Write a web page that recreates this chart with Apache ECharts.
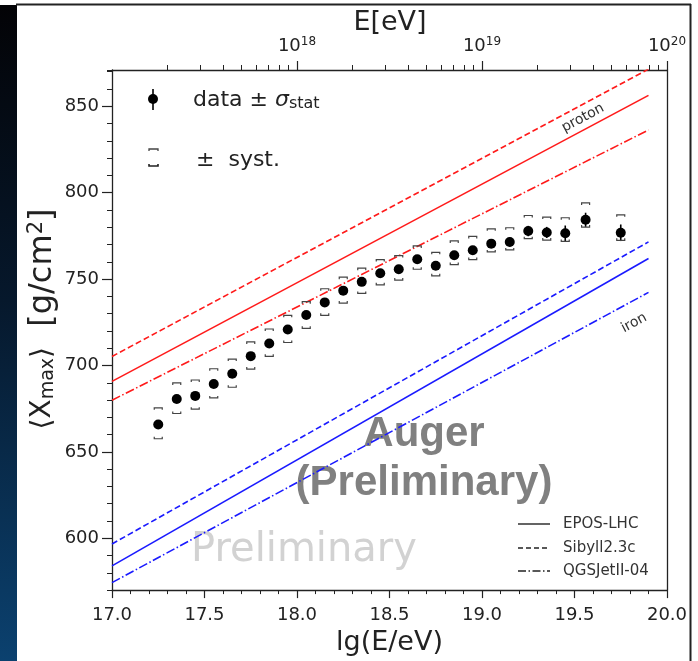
<!DOCTYPE html>
<html>
<head>
<meta charset="utf-8">
<script src="https://cdn.jsdelivr.net/npm/echarts@6/dist/echarts.min.js"></script>
<style>
html, body { margin: 0; padding: 0; background: #fff; }
#chart { width: 698px; height: 661px; }
</style>
</head>
<body>
<div id="chart"></div>
<script>
// Xmax data
var lgE = [17.25, 17.35, 17.45, 17.55, 17.65, 17.75, 17.85, 17.95, 18.05, 18.15, 18.25, 18.35, 18.45,
	18.55, 18.65, 18.75, 18.85, 18.95, 19.05, 19.15, 19.25, 19.35, 19.45, 19.56, 19.75];
var xmax = [665.8, 680.6, 682.4, 689.3, 695.2, 705.4, 712.7, 720.8, 729.2, 736.5, 743.3, 748.4, 753.4,
	755.7, 761.5, 757.7, 763.8, 766.7, 770.5, 771.5, 777.8, 777.0, 776.5, 784.3, 776.8];
var statErr = [1.5, 1.2, 1.2, 1.2, 1.2, 1.2, 1.2, 1.2, 1.2, 1.3, 1.3, 1.4, 1.5,
	1.6, 1.7, 1.8, 2.0, 2.2, 2.4, 2.6, 3.0, 3.2, 4.5, 4.1, 4.8];
var systPlus = [9.7, 9.3, 9.2, 8.8, 8.5, 8.2, 8.4, 8.2, 7.7, 7.9, 7.8, 7.9, 7.9,
	7.9, 7.7, 7.8, 8.3, 8.0, 8.6, 8.2, 9.0, 8.9, 9.0, 9.8, 10.4];
var systMinus = [8.2, 8.4, 7.7, 8.1, 7.8, 7.5, 7.4, 7.5, 7.7, 7.5, 7.2, 6.7, 6.7,
	6.3, 5.8, 5.8, 5.4, 5.4, 4.8, 4.6, 4.4, 4.4, 4.7, 4.2, 4.4];

// model predictions (straight lines in lg E)
var modelX = [17.0, 19.9];
var protonEpos = [690.8, 856.3];
var protonSibyll = [705.2, 871.5];
var protonQgs = [679.9, 836.3];
var ironEpos = [584.0, 761.9];
var ironSibyll = [596.7, 771.5];
var ironQgs = [574.3, 742.3];

// ticks
var yMajor = [600, 650, 700, 750, 800, 850];
var topMajor = [18, 19, 20];
var topMinor = [];
[17, 18, 19].forEach(function (d) {
	for (var k = 2; k <= 9; k++) topMinor.push(d + Math.log10(k));
});

var FONT = 'DejaVu Sans';
var DASH = [6, 3];
var DASHDOT = [9, 2.5, 1.5, 2.5];

function pair(xs, ys) {
	return xs.map(function (x, i) { return [x, ys[i]]; });
}
function modelLine(name, ys, color, type) {
	return {
		name: name,
		type: 'line',
		data: pair(modelX, ys),
		showSymbol: false,
		silent: true,
		clip: true,
		lineStyle: { color: color, width: 1.6, type: type },
		z: 3
	};
}

var errData = lgE.map(function (x, i) {
	return [x, xmax[i], statErr[i], systPlus[i], systMinus[i]];
});

var chart = echarts.init(document.getElementById('chart'));

var option = {
	animation: false,
	backgroundColor: '#fff',
	grid: { left: 112, right: 31, top: 70, bottom: 68 },
	xAxis: [
		{
			type: 'value', position: 'bottom', min: 17, max: 20, interval: 0.5,
			axisLine: { show: true, lineStyle: { color: '#222', width: 1.3 } },
			axisTick: { length: 8, lineStyle: { color: '#222', width: 1.2 } },
			minorTick: { show: true, splitNumber: 5, length: 4, lineStyle: { color: '#222', width: 1 } },
			axisLabel: {
				fontFamily: FONT, fontSize: 18, color: '#222', margin: 16,
				formatter: function (v) { return v.toFixed(1); }
			},
			splitLine: { show: false },
			name: 'lg(E/eV)', nameLocation: 'middle', nameGap: 36,
			nameTextStyle: { fontFamily: FONT, fontSize: 27, color: '#222' }
		},
		{
			type: 'value', position: 'top', min: 17, max: 20,
			axisLine: { show: true, lineStyle: { color: '#222', width: 1.3 } },
			axisTick: { show: true, customValues: topMinor, length: 5, lineStyle: { color: '#222', width: 1 } },
			axisLabel: { show: false },
			splitLine: { show: false }
		},
		{
			type: 'value', position: 'top', min: 17, max: 20,
			axisLine: { show: false },
			axisTick: { show: true, customValues: topMajor, length: 9, lineStyle: { color: '#222', width: 1.2 } },
			axisLabel: {
				show: true, customValues: topMajor, margin: 13,
				fontFamily: FONT, fontSize: 18, color: '#222',
				formatter: function (v) { return '10{s|' + v + '}'; },
				rich: { s: { fontFamily: FONT, fontSize: 12, color: '#222', padding: [0, 0, 9, 0] } }
			},
			splitLine: { show: false }
		}
	],
	yAxis: [
		{
			type: 'value', position: 'left', min: 570, max: 871, interval: 10,
			axisLine: { show: true, lineStyle: { color: '#222', width: 1.3 } },
			axisTick: { length: 5, lineStyle: { color: '#222', width: 1 } },
			axisLabel: {
				fontFamily: FONT, fontSize: 18, color: '#222', margin: 13,
				formatter: function (v) { return v % 50 === 0 ? String(v) : ''; }
			},
			splitLine: { show: false }
		},
		{
			type: 'value', position: 'left', min: 570, max: 871,
			axisLine: { show: false },
			axisTick: { show: true, customValues: yMajor, length: 10, lineStyle: { color: '#222', width: 1.2 } },
			axisLabel: { show: false },
			splitLine: { show: false }
		},
		{
			type: 'value', position: 'right', min: 570, max: 871,
			axisLine: { show: true, lineStyle: { color: '#222', width: 1.3 } },
			axisTick: { show: false },
			axisLabel: { show: false },
			splitLine: { show: false }
		}
	],
	series: [
		modelLine('proton EPOS-LHC', protonEpos, '#ff1a1a', 'solid'),
		modelLine('proton Sibyll2.3c', protonSibyll, '#ff1a1a', DASH),
		modelLine('proton QGSJetII-04', protonQgs, '#ff1a1a', DASHDOT),
		modelLine('iron EPOS-LHC', ironEpos, '#1a1aff', 'solid'),
		modelLine('iron Sibyll2.3c', ironSibyll, '#1a1aff', DASH),
		modelLine('iron QGSJetII-04', ironQgs, '#1a1aff', DASHDOT),
		{
			name: 'errors',
			type: 'custom',
			silent: true,
			z: 5,
			data: errData,
			renderItem: function (params, api) {
				var x = api.value(0), y = api.value(1);
				var c = api.coord([x, y]);
				var st = api.coord([x, y + api.value(2)]);
				var sb = api.coord([x, y - api.value(2)]);
				var top = api.coord([x, y + api.value(3)]);
				var bot = api.coord([x, y - api.value(4)]);
				var hw = 4, tk = 2;
				var bs = { stroke: '#444', fill: null, lineWidth: 1.2 };
				return {
					type: 'group',
					children: [
						{ type: 'line', shape: { x1: c[0], y1: st[1], x2: c[0], y2: sb[1] }, style: { stroke: '#000', lineWidth: 1.6 } },
						{ type: 'polyline', shape: { points: [[c[0] - hw, top[1] + tk], [c[0] - hw, top[1]], [c[0] + hw, top[1]], [c[0] + hw, top[1] + tk]] }, style: bs },
						{ type: 'polyline', shape: { points: [[c[0] - hw, bot[1] - tk], [c[0] - hw, bot[1]], [c[0] + hw, bot[1]], [c[0] + hw, bot[1] - tk]] }, style: bs }
					]
				};
			}
		},
		{
			name: 'data',
			type: 'scatter',
			silent: true,
			z: 6,
			symbol: 'circle',
			symbolSize: 10,
			itemStyle: { color: '#000', opacity: 1 },
			data: pair(lgE, xmax)
		}
	],
	graphic: [
		// left dark strip and frame
		{
			type: 'rect', left: 0, top: 5, shape: { width: 17, height: 656 }, silent: true,
			style: {
				fill: new echarts.graphic.LinearGradient(0, 0, 0, 1, [
					{ offset: 0, color: '#030306' },
					{ offset: 0.45, color: '#06182c' },
					{ offset: 1, color: '#0b416f' }
				])
			}
		},
		{ type: 'line', shape: { x1: 16, y1: 4.5, x2: 691, y2: 4.5 }, style: { stroke: '#222', lineWidth: 2 }, silent: true },
		{ type: 'line', shape: { x1: 690.5, y1: 4, x2: 690.5, y2: 661 }, style: { stroke: '#222', lineWidth: 2 }, silent: true },

		// top axis title
		{
			type: 'text', x: 390, y: 23, silent: true,
			style: { text: 'E[eV]', fontFamily: FONT, fontSize: 27, fill: '#222', align: 'center', verticalAlign: 'middle' }
		},

		// y axis title
		{
			type: 'text', x: 43, y: 319, rotation: Math.PI / 2, silent: true,
			style: {
				text: '{t|⟨X}{b|max}{t|⟩}{u|  [g/cm}{p|2}{u|]}',
				align: 'center', verticalAlign: 'middle',
				rich: {
					t: { fontFamily: FONT, fontSize: 28, fill: '#222' },
					u: { fontFamily: FONT, fontSize: 32, fill: '#222' },
					b: { fontFamily: FONT, fontSize: 19, fill: '#222', padding: [10, 0, 0, 0] },
					p: { fontFamily: FONT, fontSize: 21, fill: '#222', padding: [0, 0, 13, 0] }
				}
			}
		},

		// data legend
		{ type: 'line', shape: { x1: 153, y1: 89, x2: 153, y2: 110 }, style: { stroke: '#000', lineWidth: 1.6 }, silent: true },
		{ type: 'circle', shape: { cx: 153, cy: 99, r: 5 }, style: { fill: '#000' }, silent: true },
		{
			type: 'text', x: 193, y: 100, silent: true,
			style: {
				text: '{t|data ± }{i|σ}{b|stat}',
				verticalAlign: 'middle',
				rich: {
					t: { fontFamily: FONT, fontSize: 22, fill: '#222' },
					i: { fontFamily: FONT, fontSize: 22, fontStyle: 'italic', fill: '#222' },
					b: { fontFamily: FONT, fontSize: 16, fill: '#222', padding: [8, 0, 0, 0] }
				}
			}
		},
		{ type: 'polyline', shape: { points: [[149, 151], [149, 149], [158, 149], [158, 151]] }, style: { stroke: '#444', fill: null, lineWidth: 1.3 }, silent: true },
		{ type: 'polyline', shape: { points: [[149, 164], [149, 166], [158, 166], [158, 164]] }, style: { stroke: '#222', fill: null, lineWidth: 1.6 }, silent: true },
		{
			type: 'text', x: 196, y: 160, silent: true,
			style: { text: '±  syst.', fontFamily: FONT, fontSize: 22, fill: '#222', verticalAlign: 'middle' }
		},

		// model annotations
		{
			type: 'text', x: 583, y: 118, rotation: 28 * Math.PI / 180, silent: true,
			style: { text: 'proton', fontFamily: FONT, fontSize: 14, fill: '#333', align: 'center', verticalAlign: 'middle' }
		},
		{
			type: 'text', x: 634, y: 323, rotation: 28 * Math.PI / 180, silent: true,
			style: { text: 'iron', fontFamily: FONT, fontSize: 14, fill: '#333', align: 'center', verticalAlign: 'middle' }
		},

		// watermarks
		{
			type: 'text', x: 424, y: 434, silent: true, z: 1,
			style: { text: 'Auger', fontFamily: 'Liberation Sans', fontWeight: 'bold', fontSize: 42, fill: '#808080', align: 'center', verticalAlign: 'middle' }
		},
		{
			type: 'text', x: 424, y: 483, silent: true, z: 1,
			style: { text: '(Preliminary)', fontFamily: 'Liberation Sans', fontWeight: 'bold', fontSize: 42, fill: '#808080', align: 'center', verticalAlign: 'middle' }
		},
		{
			type: 'text', x: 304, y: 551, silent: true, z: 1,
			style: { text: 'Preliminary', fontFamily: FONT, fontSize: 40, fill: '#d2d2d2', align: 'center', verticalAlign: 'middle' }
		},

		// model legend
		{ type: 'line', shape: { x1: 518, y1: 524, x2: 550, y2: 524 }, style: { stroke: '#222', lineWidth: 1.4 }, silent: true },
		{ type: 'line', shape: { x1: 518, y1: 548, x2: 550, y2: 548 }, style: { stroke: '#222', lineWidth: 1.4, lineDash: [5, 3] }, silent: true },
		{ type: 'line', shape: { x1: 518, y1: 571, x2: 550, y2: 571 }, style: { stroke: '#222', lineWidth: 1.4, lineDash: [8, 2.5, 1.5, 2.5] }, silent: true },
		{ type: 'text', x: 563, y: 524, silent: true, style: { text: 'EPOS-LHC', fontFamily: FONT, fontSize: 15, fill: '#333', verticalAlign: 'middle' } },
		{ type: 'text', x: 563, y: 548, silent: true, style: { text: 'Sibyll2.3c', fontFamily: FONT, fontSize: 15, fill: '#333', verticalAlign: 'middle' } },
		{ type: 'text', x: 563, y: 571, silent: true, style: { text: 'QGSJetII-04', fontFamily: FONT, fontSize: 15, fill: '#333', verticalAlign: 'middle' } }
	]
};

chart.setOption(option);
</script>
</body>
</html>
